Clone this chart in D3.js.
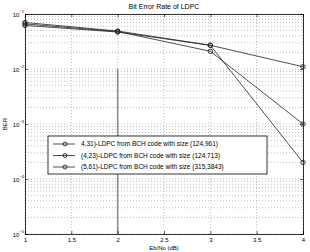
<!DOCTYPE html>
<html>
<head>
<meta charset="utf-8">
<script src="https://cdn.jsdelivr.net/npm/d3@7"></script>
<style>
  body { margin: 0; background: #fff; }
  svg { font-family: "Liberation Sans", Arial, sans-serif; }
  .grid line { stroke: #999; stroke-dasharray: 1,2; stroke-width: 0.6; }
</style>
</head>
<body>
<div id="chart"></div>
<script>
var width = 310, height = 252
var margin = {top: 14, right: 7, bottom: 18, left: 25}

// data
var ebno = [1, 2, 3, 4]
var ber431 = [0.070, 0.049, 0.027, 0.011]
var ber423 = [0.066, 0.048, 0.021, 0.001]
var ber561 = [0.062, 0.047, 0.027, 0.0002]
var seriesNames = [
  "4,31)-LDPC from BCH code with size (124,961)",
  "(4,23)-LDPC from BCH code with size (124,713)",
  "(5,61)-LDPC from BCH code with size (315,3843)"
]
var xTicks = [1, 1.5, 2, 2.5, 3, 3.5, 4]
var yTicks = [1e-5, 1e-4, 1e-3, 1e-2, 1e-1]
// stray vertical marker line in the original figure
var markX = 2, markTop = 1e-2

var svg = d3.select("#chart")
  .append("svg")
  .attr("width", width)
  .attr("height", height)

var xScale = d3.scaleLinear()
  .domain([1, 4])
  .range([margin.left, width - margin.right])

var yScale = d3.scaleLog()
  .domain([1e-5, 1e-1])
  .range([height - margin.bottom, margin.top])

// minor log values for grid
var minor = []
yTicks.slice(0, -1).forEach(function(d) {
  for (var k = 1; k < 10; k++) minor.push(d * k)
})
minor.push(1e-1)

// grid
svg.append("g")
  .attr("class", "grid")
  .selectAll("line")
  .data(minor)
  .enter()
  .append("line")
  .attr("x1", margin.left)
  .attr("x2", width - margin.right)
  .attr("y1", d => yScale(d))
  .attr("y2", d => yScale(d))

svg.append("g")
  .attr("class", "grid")
  .selectAll("line")
  .data(xTicks)
  .enter()
  .append("line")
  .attr("x1", d => xScale(d))
  .attr("x2", d => xScale(d))
  .attr("y1", margin.top)
  .attr("y2", height - margin.bottom)

// gray vertical line
svg.append("line")
  .attr("x1", xScale(markX))
  .attr("x2", xScale(markX))
  .attr("y1", yScale(markTop))
  .attr("y2", yScale(1e-5))
  .attr("stroke", "#888")
  .attr("stroke-width", 1.5)

// axes (ticks inward, box)
var xAxisB = d3.axisBottom(xScale).tickValues(xTicks).tickSize(-3).tickPadding(4)
  .tickFormat(d => d)
var xAxisT = d3.axisTop(xScale).tickValues(xTicks).tickSize(-3).tickFormat("")
var yAxisL = d3.axisLeft(yScale).tickValues(yTicks).tickSize(-3).tickFormat("")
var yAxisR = d3.axisRight(yScale).tickValues(yTicks).tickSize(-3).tickFormat("")

svg.append("g").attr("transform", `translate(0,${height - margin.bottom})`).call(xAxisB)
  .call(g => g.selectAll("text").style("font-size", "6px").attr("fill", "#000"))
svg.append("g").attr("transform", `translate(0,${margin.top})`).call(xAxisT)
svg.append("g").attr("transform", `translate(${margin.left},0)`).call(yAxisL)
svg.append("g").attr("transform", `translate(${width - margin.right},0)`).call(yAxisR)
svg.selectAll(".domain").attr("stroke", "#000").attr("stroke-width", 0.8)
svg.selectAll(".tick line").attr("stroke", "#000").attr("stroke-width", 0.6)

// y tick labels with superscript
var yLab = svg.append("g")
yTicks.forEach(function(d) {
  var t = yLab.append("text")
    .attr("x", margin.left - 1)
    .attr("y", yScale(d) + 3)
    .attr("text-anchor", "end")
    .style("font-size", "6px")
  t.append("tspan").text("10")
  t.append("tspan")
    .attr("dy", -4)
    .style("font-size", "4px")
    .text(String(Math.round(Math.log10(d))).replace("-", "\u2212"))
})

// lines and markers
var lineGen = d3.line()
  .x((d, i) => xScale(ebno[i]))
  .y(d => yScale(d))

var allSeries = [ber431, ber423, ber561]
allSeries.forEach(function(s) {
  svg.append("path")
    .datum(s)
    .attr("d", lineGen)
    .attr("fill", "none")
    .attr("stroke", "#222")
    .attr("stroke-width", 0.8)
  svg.selectAll(null)
    .data(s)
    .enter()
    .append("circle")
    .attr("cx", (d, i) => xScale(ebno[i]))
    .attr("cy", d => yScale(d))
    .attr("r", 2.2)
    .attr("fill", "none")
    .attr("stroke", "#222")
    .attr("stroke-width", 0.9)
})

// legend
var legend = svg.append("g").attr("transform", "translate(48,136)")
legend.append("rect")
  .attr("width", 219)
  .attr("height", 38)
  .attr("fill", "#fff")
  .attr("stroke", "#000")
  .attr("stroke-width", 0.8)
seriesNames.forEach(function(name, i) {
  var y = 8 + i * 11.5
  legend.append("line")
    .attr("x1", 5).attr("x2", 27)
    .attr("y1", y).attr("y2", y)
    .attr("stroke", "#222").attr("stroke-width", 0.8)
  legend.append("circle")
    .attr("cx", 17).attr("cy", y).attr("r", 2)
    .attr("fill", "none").attr("stroke", "#222").attr("stroke-width", 0.9)
  legend.append("text")
    .attr("x", 33).attr("y", y + 2.3)
    .style("font-size", "6.5px")
    .text(name)
})

// title and labels
svg.append("text")
  .attr("x", (margin.left + width - margin.right) / 2)
  .attr("y", 9)
  .attr("text-anchor", "middle")
  .style("font-size", "7px")
  .text("Bit Error Rate of LDPC")

svg.append("text")
  .attr("x", (margin.left + width - margin.right) / 2)
  .attr("y", 250)
  .attr("text-anchor", "middle")
  .style("font-size", "6px")
  .text("Eb/No (dB)")

svg.append("text")
  .attr("transform", `translate(7,${(margin.top + height - margin.bottom) / 2}) rotate(-90)`)
  .attr("text-anchor", "middle")
  .style("font-size", "6px")
  .text("BER")
</script>
</body>
</html>
